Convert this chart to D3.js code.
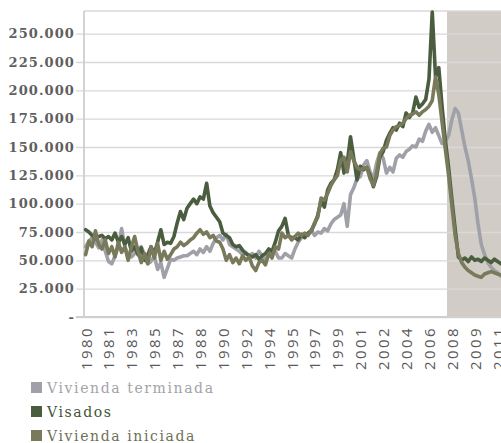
<!DOCTYPE html>
<html>
<head>
<meta charset="utf-8">
<script src="https://cdn.jsdelivr.net/npm/d3@7/dist/d3.min.js"></script>
<style>
body{margin:0;background:#fff;}
svg{display:block;}
</style>
</head>
<body>
<div id="chart"></div>
<script>
// series trimestrales 1980T1 - 2012T2 (miles de viviendas)
var terminada = [62, 67, 70, 66, 61, 68, 58, 49, 47, 54, 62, 78, 62, 54, 53, 56, 60, 62, 55, 47, 49, 54, 42, 48, 35, 43, 51, 50, 52, 53, 54, 54,
  56, 58, 55, 60, 57, 62, 58, 65, 70, 72, 68, 73, 64, 62, 60, 58, 55, 57, 54, 56, 52, 58, 54, 50, 56, 55, 58, 52,
  52, 56, 54, 52, 60, 66, 70, 72, 74, 77, 72, 75, 74, 78, 76, 82, 86, 88, 90, 100, 80, 108, 114, 122, 124, 134, 138, 128,
  122, 136, 145, 140, 127, 132, 128, 140, 143, 141, 146, 148, 151, 150, 157, 155, 164, 170, 163, 167, 160, 153, 155, 160, 174,
  184, 180, 165, 150, 138, 122, 105, 82, 64, 55, 48, 44, 41, 39, 36, 35, 34];
var visados = [77, 75, 72, 69, 71, 72, 69, 71, 68, 74, 66, 71, 64, 70, 58, 62, 55, 61, 50, 55, 62, 56, 66, 77, 64, 66, 65, 71, 83, 93, 86, 96,
  100, 104, 100, 106, 104, 118, 98, 92, 88, 84, 74, 72, 70, 64, 62, 63, 59, 56, 54, 53, 55, 51, 54, 56, 60, 58, 66, 76, 80, 87, 72, 70,
  70, 68, 73, 70, 74, 76, 82, 90,
  103, 97, 112, 118, 121, 130, 145, 127, 136, 159, 140, 121, 133, 130, 132, 125,
  115, 124, 141, 146, 156, 162, 167, 165, 171, 168, 180, 176, 180, 194, 185, 188, 192, 210,
  269, 212, 220, 186, 156, 132, 104, 78, 53, 50, 52, 49, 53, 50, 51, 49, 52, 50, 48, 51, 49, 47, 48, 46];
var iniciada = [55, 67, 62, 76, 64, 60, 68, 56, 62, 53, 66, 57, 62, 50, 62, 71, 58, 48, 56, 47, 62, 52, 65, 50, 58, 51, 55, 60, 62, 66, 63, 65,
  68, 70, 74, 77, 73, 75, 70, 72, 67, 66, 60, 50, 55, 48, 52, 47, 54, 50, 53, 45, 41, 48, 50, 46, 56, 52, 62, 60, 74, 70, 72, 68,
  71, 74, 72, 74, 72, 76, 83, 88, 105, 103, 109, 116, 121, 125, 138, 141, 128, 146, 138, 132, 130, 131, 132, 122,
  116, 127, 144, 149, 150, 160, 165, 168, 169, 171, 175, 178, 179, 181, 178, 181, 183, 186, 191, 212, 196,
  172, 148, 125, 98, 72, 56, 48, 44, 41, 39, 37, 36, 35, 38, 39, 40, 39, 38, 37, 38, 37];

var etiquetasAnos = ["1980","1981","1983","1985","1987","1988","1990","1992","1994","1995",
  "1997","1999","2001","2002","2004","2006","2008","2009","2011"];
var yTicks = [0, 25, 50, 75, 100, 125, 150, 175, 200, 225, 250];
var nombres = ["Vivienda terminada", "Visados", "Vivienda iniciada"];
var inicioCrisis = "2007T4";

var colores = ["#a0a1a8", "#4a5d3f", "#797a5b"];
var coloresTexto = ["#a3a3a9", "#3f5537", "#6d7057"];

var w = 501, h = 443;
var mIzq = 84, mSup = 11, mInf = 317;
var paso = 3.27;

var trimestres = terminada.map(function(d, i){ return (1980 + Math.floor(i / 4)) + "T" + (i % 4 + 1); });

var x = d3.scalePoint()
          .domain(trimestres)
          .range([mIzq, mIzq + trimestres.length * paso])
          .padding(0.5);

var y = d3.scaleLinear()
          .domain([0, 270])
          .range([mInf, mSup]);

var loc = d3.formatLocale({decimal: ",", thousands: ".", grouping: [3], currency: ["", ""]});
var fmt = loc.format(",");

var svg = d3.select("#chart").append("svg")
            .attr("width", w)
            .attr("height", h);

// zona sombreada
var xs = x(inicioCrisis) - paso / 2;
svg.append("rect")
   .attr("x", xs)
   .attr("y", mSup)
   .attr("width", w - xs)
   .attr("height", mInf - mSup)
   .attr("fill", "#d1cdc6");

// eje y + rejilla
var yAxis = d3.axisLeft(y)
              .tickValues(yTicks)
              .tickSize(-(w - mIzq))
              .tickPadding(9)
              .tickFormat(function(d){ return d === 0 ? "-" : fmt(d * 1000); });

var gy = svg.append("g")
            .attr("transform", "translate(" + mIzq + ",0)")
            .call(yAxis);
gy.select(".domain").remove();
gy.selectAll(".tick line")
  .attr("x1", -8)
  .attr("stroke", "#d9d9d9")
  .attr("stroke-width", 1.3);
gy.selectAll(".tick text")
  .attr("fill", "#5f5f5f")
  .style("font-family", "'DejaVu Serif', serif")
  .style("font-weight", "bold")
  .style("font-size", "13px")
  .style("letter-spacing", "1.1px");

// marco
svg.append("line").attr("x1", mIzq).attr("x2", w).attr("y1", mSup).attr("y2", mSup)
   .attr("stroke", "#d9d9d9").attr("stroke-width", 1.5);
svg.append("line").attr("x1", mIzq - 8).attr("x2", w).attr("y1", mInf).attr("y2", mInf)
   .attr("stroke", "#cfcfcf").attr("stroke-width", 1.8);
svg.append("line").attr("x1", mIzq).attr("x2", mIzq).attr("y1", mSup).attr("y2", mInf)
   .attr("stroke", "#cfcfcf").attr("stroke-width", 1.8);

// lineas
var series = [terminada, visados, iniciada];
var linea = d3.line()
              .x(function(d, i){ return x(trimestres[i]); })
              .y(function(d){ return y(d); });

series.forEach(function(s, k){
  svg.append("path")
     .datum(s)
     .attr("d", linea)
     .attr("fill", "none")
     .attr("stroke", colores[k])
     .attr("stroke-width", 3.6)
     .attr("stroke-linejoin", "round")
     .attr("stroke-linecap", "round");
});

// eje x
var xAxis = d3.axisBottom(x)
              .tickValues(etiquetasAnos.map(function(d, i){ return trimestres[i * 7]; }))
              .tickSize(0)
              .tickFormat(function(d){ return etiquetasAnos[trimestres.indexOf(d) / 7]; });

var gx = svg.append("g")
            .attr("transform", "translate(0," + mInf + ")")
            .call(xAxis);
gx.select(".domain").remove();
gx.selectAll(".tick text")
  .attr("transform", "rotate(-90)")
  .attr("x", -9)
  .attr("y", 0)
  .attr("dy", "0.36em")
  .style("text-anchor", "end")
  .attr("fill", "#595959")
  .style("font-family", "'Open Sans', sans-serif")
  .style("font-size", "15px")
  .style("letter-spacing", "2.4px");

// leyenda
var leyenda = svg.selectAll(".ley")
                 .data(nombres)
                 .enter()
                 .append("g")
                 .attr("class", "ley")
                 .attr("transform", function(d, i){ return "translate(31," + (382 + i * 24) + ")"; });
leyenda.append("rect")
       .attr("width", 11)
       .attr("height", 11)
       .attr("fill", function(d, i){ return colores[i]; });
leyenda.append("text")
       .attr("x", 16)
       .attr("y", 10.5)
       .text(function(d){ return d; })
       .attr("fill", function(d, i){ return coloresTexto[i]; })
       .style("font-family", "'DejaVu Serif', serif")
       .style("font-size", "14px")
       .style("letter-spacing", "1.6px");
</script>
</body>
</html>
